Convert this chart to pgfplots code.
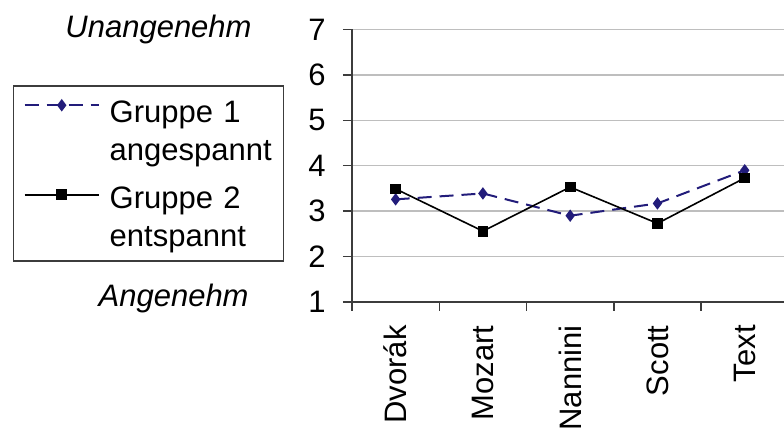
\documentclass[border=0pt]{standalone}
\usepackage{fontspec}
\setmainfont{Liberation Sans}
\usepackage{pgfplots}
\usepackage{pgfplotstable}
\pgfplotsset{compat=1.18}

\definecolor{gruppeeins}{RGB}{34,28,122}
\definecolor{gitter}{RGB}{190,190,190}
\definecolor{achse}{RGB}{60,60,60}

% mean ratings per piece (1 = angenehm, 7 = unangenehm)
\pgfplotstableread{
x g1 g2
0 3.26 3.49
1 3.39 2.56
2 2.90 3.53
3 3.17 2.73
4 3.90 3.73
}\daten

\newcommand{\schrift}{\fontsize{15.5}{18}\selectfont}

\begin{document}
\begin{tikzpicture}
\begin{axis}[
  at={(0,0)}, anchor=south west,
  scale only axis, width=216pt, height=136.25pt,
  xmin=-0.5, xmax=4.45, ymin=1, ymax=7,
  clip=false,
  axis lines*=left,
  axis line style={achse, line width=0.75pt},
  tick align=outside,
  major tick length=4.5pt,
  tick style={achse, line width=0.75pt},
  xtick={-0.5,0.5,1.5,2.5,3.5},
  xticklabels={},
  extra x ticks={0,1,2,3,4},
  extra x tick labels={Dvorák,Mozart,Nannini,Scott,Text},
  extra x tick style={major tick length=0pt, grid=none},
  xticklabel style={rotate=90, anchor=east, inner sep=0pt},
  xticklabel shift=11.5pt,
  ytick={1,...,7},
  yticklabel style={anchor=east, inner sep=0pt},
  yticklabel shift=8.5pt,
  ymajorgrids,
  grid style={gitter, line width=0.7pt},
  tick label style={font=\schrift},
  /pgf/number format/assume math mode=true,
  legend style={
    at={(-0.7847,0.7963)}, anchor=north west,
    draw=achse, line width=0.75pt, fill=white,
    inner xsep=5pt, inner ysep=3pt,
    column sep=5pt, row sep=0pt,
    nodes={inner sep=0pt, text width=82pt, align=left,
           text height=12pt, text depth=7pt},
    font=\schrift,
  },
  legend cell align=left,
  legend image code/.code={
    \draw[mark repeat=2, mark phase=2, #1]
      plot coordinates {(0pt,4.5pt) (18.5pt,4.5pt) (37pt,4.5pt)};
  },
]
\addplot[color=gruppeeins, line width=1pt, dash pattern=on 7pt off 4pt,
  mark=diamond*, mark size=2.3pt, mark options={solid, fill=gruppeeins}]
  table[x=x, y=g1]{\daten};
\addlegendentry[text height=15.5pt]{Gruppe 1}
\addlegendimage{empty legend}
\addlegendentry[text depth=12pt]{angespannt}

\addplot[color=black, line width=0.8pt,
  mark=square*, mark size=2.3pt, mark options={solid, fill=black}]
  table[x=x, y=g2]{\daten};
\addlegendentry{Gruppe 2}
\addlegendimage{empty legend}
\addlegendentry[text depth=4pt]{entspannt}

\node[anchor=base east, inner sep=0pt, font=\schrift\itshape]
  at (axis description cs:-0.2315,0.970) {Unangenehm};
\node[anchor=base east, inner sep=0pt, font=\schrift\itshape]
  at (axis description cs:-0.2384,-0.017) {Angenehm};
\end{axis}
\pgfresetboundingbox
\path (-176pt,-65pt) rectangle (216pt,151pt);
\end{tikzpicture}
\end{document}
